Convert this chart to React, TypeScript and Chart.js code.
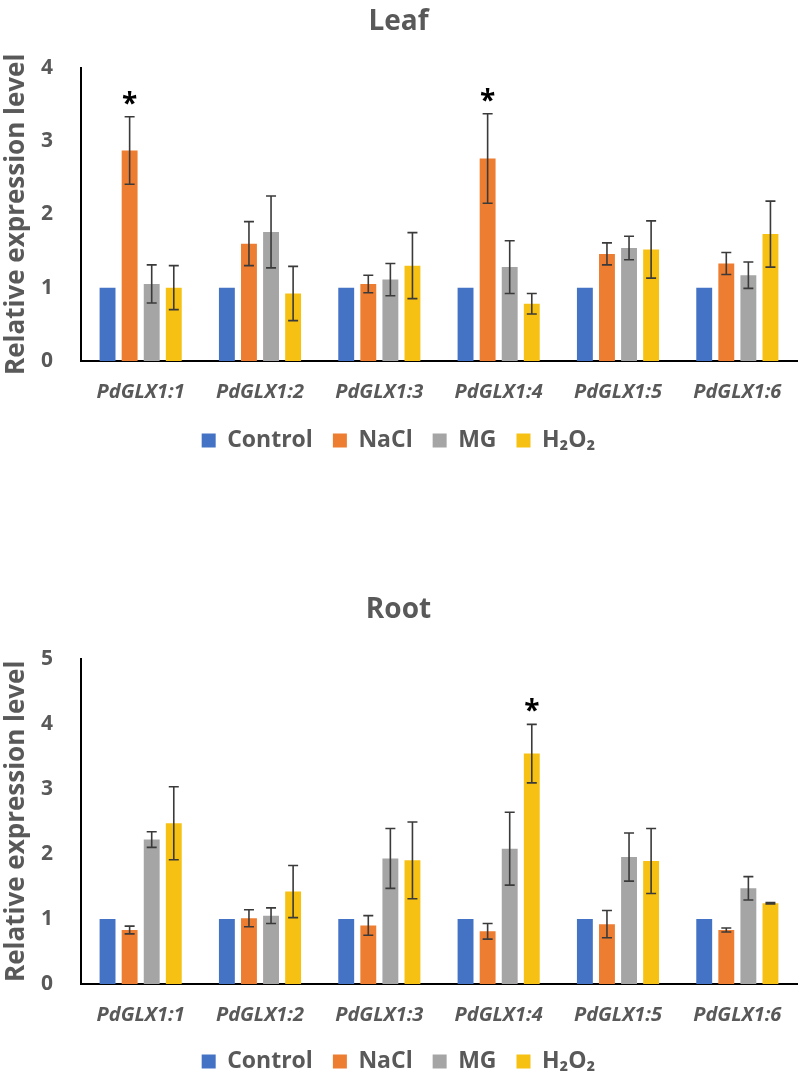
import React, { useEffect, useRef } from 'react';
import { Chart, registerables } from 'chart.js';

Chart.register(...registerables);

// ---------- Data ----------
const categories = ['PdGLX1:1', 'PdGLX1:2', 'PdGLX1:3', 'PdGLX1:4', 'PdGLX1:5', 'PdGLX1:6'];
const seriesLabels = ['Control', 'NaCl', 'MG', 'H\u2082O\u2082'];

// Leaf
const leafControl = [1, 1, 1, 1, 1, 1];
const leafNaCl = [2.87, 1.6, 1.05, 2.76, 1.46, 1.33];
const leafMG = [1.05, 1.76, 1.11, 1.28, 1.54, 1.17];
const leafH2O2 = [1.0, 0.92, 1.3, 0.78, 1.52, 1.73];
const leafControlErr = [0, 0, 0, 0, 0, 0];
const leafNaClErr = [0.46, 0.3, 0.12, 0.61, 0.15, 0.15];
const leafMGErr = [0.26, 0.49, 0.22, 0.36, 0.16, 0.18];
const leafH2O2Err = [0.3, 0.37, 0.45, 0.14, 0.39, 0.45];
// [series index, category index]
const leafSignificant = [[1, 0], [1, 3]];
const leafTicksMax = 4;

// Root
const rootControl = [1, 1, 1, 1, 1, 1];
const rootNaCl = [0.83, 1.01, 0.9, 0.81, 0.92, 0.83];
const rootMG = [2.22, 1.05, 1.93, 2.08, 1.95, 1.47];
const rootH2O2 = [2.47, 1.42, 1.9, 3.54, 1.89, 1.24];
const rootControlErr = [0, 0, 0, 0, 0, 0];
const rootNaClErr = [0.06, 0.13, 0.15, 0.12, 0.21, 0.03];
const rootMGErr = [0.12, 0.12, 0.46, 0.56, 0.37, 0.18];
const rootH2O2Err = [0.56, 0.4, 0.59, 0.45, 0.5, 0.01];
const rootSignificant = [[3, 3]];
const rootTicksMax = 5;

// ---------- Style ----------
const FONT = "'Open Sans', 'DejaVu Sans', sans-serif";
const TEXT = '#595959';
const COLORS = ['#4472C4', '#ED7D31', '#A5A5A5', '#F7C114'];

Chart.defaults.font.family = FONT;

type PanelProps = {
  title: string;
  top: number;
  height: number;
  values: number[][];
  errors: number[][];
  significant: number[][];
  yMax: number;
  titlePadTop: number;
  titlePadBottom: number;
  xAxisHeight: number;
  padBottom: number;
};

function Panel(p: PanelProps) {
  const ref = useRef<HTMLCanvasElement>(null);

  useEffect(() => {
    if (!ref.current) return;
    const errorPlugin = {
      id: 'errorBars_' + p.title,
      afterDatasetsDraw(chart: any) {
        const { ctx } = chart;
        const yScale = chart.scales.y;
        ctx.save();
        ctx.strokeStyle = '#3a3a3a';
        ctx.lineWidth = 1.6;
        chart.data.datasets.forEach((ds: any, di: number) => {
          const meta = chart.getDatasetMeta(di);
          const errs = p.errors[di];
          meta.data.forEach((bar: any, i: number) => {
            const err = errs[i];
            if (!err) return;
            const v = ds.data[i];
            const x = bar.x;
            const yt = yScale.getPixelForValue(v + err);
            const yb = yScale.getPixelForValue(v - err);
            ctx.beginPath();
            ctx.moveTo(x, yt);
            ctx.lineTo(x, yb);
            ctx.moveTo(x - 5, yt);
            ctx.lineTo(x + 5, yt);
            ctx.moveTo(x - 5, yb);
            ctx.lineTo(x + 5, yb);
            ctx.stroke();
          });
        });
        ctx.fillStyle = '#000000';
        ctx.font = `bold 28px ${FONT}`;
        ctx.textAlign = 'center';
        ctx.textBaseline = 'alphabetic';
        p.significant.forEach(([di, i]) => {
          const bar: any = chart.getDatasetMeta(di).data[i];
          const v = p.values[di][i] + p.errors[di][i];
          const yTop = yScale.getPixelForValue(v);
          ctx.fillText('*', bar.x, yTop - 19 + 15);
        });
        ctx.restore();
      },
    };

    const chart = new Chart(ref.current, {
      type: 'bar',
      data: {
        labels: categories,
        datasets: seriesLabels.map((label, di) => ({
          label,
          data: p.values[di],
          backgroundColor: COLORS[di],
          borderWidth: 0,
          categoryPercentage: 0.74,
          barPercentage: 0.72,
        })),
      },
      options: {
        responsive: false,
        animation: false,
        layout: { padding: { left: 0, right: 3, top: 0, bottom: p.padBottom } },
        plugins: {
          tooltip: { enabled: false },
          title: {
            display: true,
            text: p.title,
            color: TEXT,
            font: { size: 28, weight: 'bold', family: FONT },
            padding: { top: p.titlePadTop, bottom: p.titlePadBottom },
          },
          legend: {
            position: 'bottom',
            labels: {
              boxWidth: 14,
              boxHeight: 14,
              padding: 20,
              color: TEXT,
              font: { size: 23, weight: 'bold', family: FONT },
            },
          },
        },
        scales: {
          x: {
            grid: { display: false },
            border: { display: true, color: '#000000', width: 2 },
            ticks: {
              color: TEXT,
              padding: 11,
              maxRotation: 0,
              autoSkip: false,
              font: { size: 20, weight: 'bold', style: 'italic', family: FONT },
            },
            afterFit: (scale: any) => {
              scale.height = p.xAxisHeight;
            },
          },
          y: {
            min: 0,
            max: p.yMax,
            grid: { display: false },
            border: { display: true, color: '#000000', width: 2 },
            ticks: {
              stepSize: 1,
              color: TEXT,
              padding: 20,
              font: { size: 21, weight: 'bold', family: FONT },
            },
            title: {
              display: true,
              text: 'Relative expression level',
              color: TEXT,
              font: { size: 26, weight: 'bold', family: FONT },
              padding: { top: 1, bottom: 0 },
            },
            afterFit: (scale: any) => {
              scale.width = 81;
            },
          },
        },
      },
      plugins: [errorPlugin],
    } as any);
    return () => chart.destroy();
  }, []);

  return (
    <canvas
      ref={ref}
      width={800}
      height={p.height}
      style={{ position: 'absolute', left: 0, top: p.top, display: 'block' }}
    />
  );
}

export default function App() {
  useEffect(() => {
    document.body.style.margin = '0';
    document.body.style.overflow = 'hidden';
  }, []);
  return (
    <div style={{ position: 'relative', width: 800, height: 1083, background: '#ffffff' }}>
      <Panel
        title="Leaf"
        top={0}
        height={462}
        values={[leafControl, leafNaCl, leafMG, leafH2O2]}
        errors={[leafControlErr, leafNaClErr, leafMGErr, leafH2O2Err]}
        significant={leafSignificant}
        yMax={leafTicksMax}
        titlePadTop={5}
        titlePadBottom={29}
        xAxisHeight={48}
        padBottom={0}
      />
      <Panel
        title="Root"
        top={580}
        height={503}
        values={[rootControl, rootNaCl, rootMG, rootH2O2]}
        errors={[rootControlErr, rootNaClErr, rootMGErr, rootH2O2Err]}
        significant={rootSignificant}
        yMax={rootTicksMax}
        titlePadTop={13}
        titlePadBottom={32}
        xAxisHeight={46}
        padBottom={0}
      />
    </div>
  );
}
